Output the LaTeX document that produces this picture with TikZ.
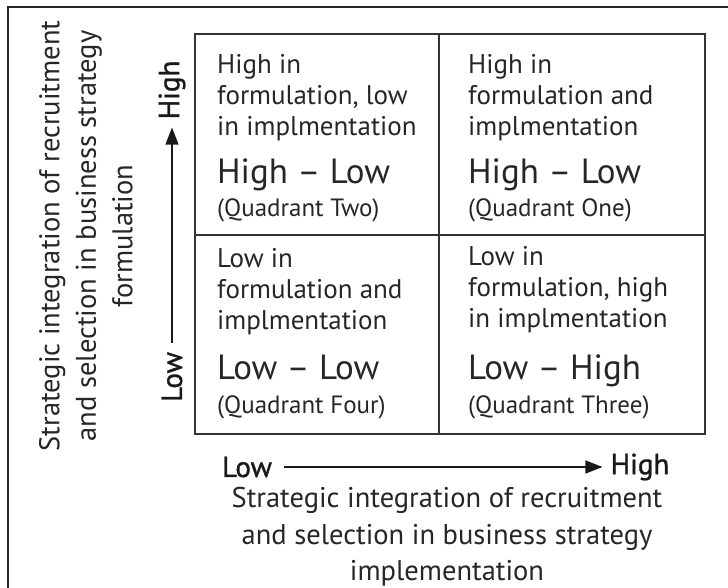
\documentclass[tikz,border=0pt]{standalone}
\usepackage{fontspec}
\setmainfont{PT Sans}
\newfontfamily\tickfont[FakeBold=1.2]{PT Sans}
\usetikzlibrary{arrows.meta}
\begin{document}
\begin{tikzpicture}[x=1pt,y=-1pt,
  desc/.style={anchor=base west, inner sep=0pt, font=\fontsize{27}{31}\selectfont, text=black!85},
  big/.style={anchor=base west, inner sep=0pt, font=\fontsize{35}{39}\selectfont, text=black!85},
  qname/.style={anchor=base west, inner sep=0pt, font=\fontsize{25}{29}\selectfont, text=black!85},
  axislabel/.style={inner sep=0pt, align=center, font=\fontsize{28.5}{36.5}\selectfont, text=black!85},
  ticklabel/.style={inner sep=0pt, font=\tickfont\fontsize{29}{33}\selectfont, text=black!90},
  arr/.style={line width=1.1pt, draw=black!90, -{Triangle[length=17pt,width=13pt]}},
  frame/.style={line width=2.2pt, draw=black!85},
  grid/.style={line width=1.6pt, draw=black!80}]
\useasboundingbox (0,0) rectangle (728,588);
% outer frame (right and bottom edges lie outside the picture)
\draw[frame] (8,600) -- (8,7) -- (740,7);
% matrix
\draw[grid] (195,34) rectangle (705,434);
\draw[grid] (439,34) -- (439,434);
\draw[grid] (195,235) -- (705,235);
% Quadrant Two (top left)
\node[desc] (q2a) at (217,74) {High in};
\node[desc] (q2b) at (217,105) {formulation, low};
\node[desc] (q2c) at (217,136) {in implmentation};
\node[big] (q2d) at (217,184) {High -- Low};
\node[qname] (q2e) at (217,217) {(Quadrant Two)};
% Quadrant One (top right)
\node[desc] (q1a) at (468,74) {High in};
\node[desc] (q1b) at (468,105) {formulation and};
\node[desc] (q1c) at (468,136) {implmentation};
\node[big] (q1d) at (468,184) {High -- Low};
\node[qname] (q1e) at (468,217) {(Quadrant One)};
% Quadrant Four (bottom left)
\node[desc] (q4a) at (217,267) {Low in};
\node[desc] (q4b) at (217,298) {formulation and};
\node[desc] (q4c) at (217,329) {implmentation};
\node[big] (q4d) at (217,379) {Low -- Low};
\node[qname] (q4e) at (217,413) {(Quadrant Four)};
% Quadrant Three (bottom right)
\node[desc] (q3a) at (468,265) {Low in};
\node[desc] (q3b) at (468,296) {formulation, high};
\node[desc] (q3c) at (468,327) {in implmentation};
\node[big] (q3d) at (468,379) {Low -- High};
\node[qname] (q3e) at (468,413) {(Quadrant Three)};
% vertical axis
\node[ticklabel, rotate=90] (ylow) at (172,377) {Low};
\node[ticklabel, rotate=90] (yhigh) at (172,90) {High};
\draw[arr] ([yshift=9pt]ylow.east) -- ([yshift=-8pt]yhigh.west);
\node[axislabel, rotate=90] (ytitle) at (86,236) {Strategic integration of recruitment\\and selection in business strategy\\formulation};
% horizontal axis
\node[ticklabel] (xlow) at (247,467) {Low};
\node[ticklabel] (xhigh) at (640,467) {High};
\draw[arr] ([xshift=12pt]xlow.east) -- ([xshift=-8pt]xhigh.west);
\node[axislabel] (xtitle) at (447,537) {Strategic integration of recruitment\\and selection in business strategy\\implementation};
\end{tikzpicture}
\end{document}
